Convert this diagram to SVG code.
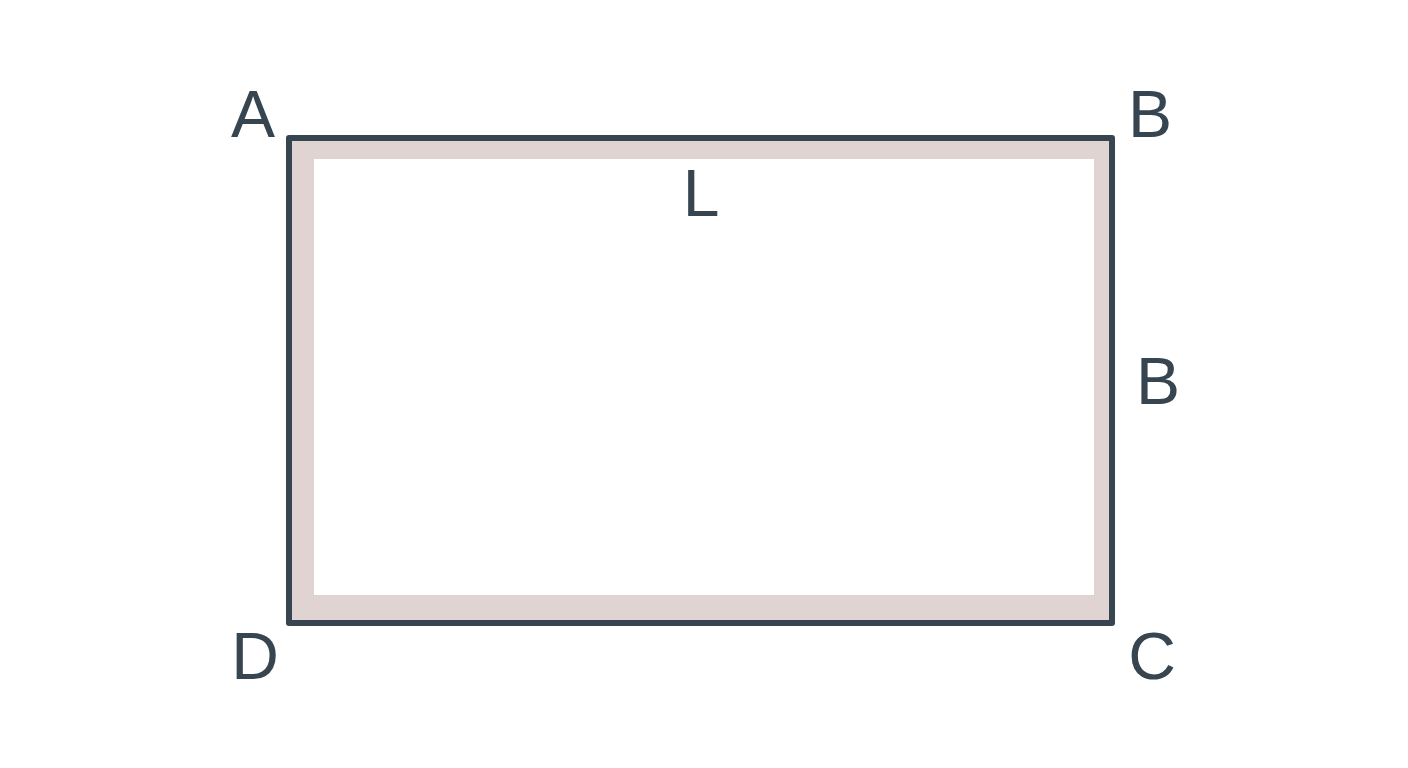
<svg xmlns="http://www.w3.org/2000/svg" width="1408" height="768" viewBox="0 0 1408 768">
  <style>
    .lbl { font-family: "Liberation Sans", Arial, sans-serif; font-size: 66px; fill: #36454f; text-anchor: middle; }
  </style>
  <rect x="0" y="0" width="1408" height="768" fill="#ffffff"/>
  <g id="rectangle">
    <rect x="289" y="138" width="823" height="485" fill="#e0d4d3" stroke="none"/>
    <rect x="314" y="159" width="780" height="436" fill="#ffffff"/>
    <rect x="289" y="138" width="823" height="485" fill="none" stroke="#36454f" stroke-width="6" stroke-linejoin="round"/>
  </g>
  <g id="labels">
    <text id="label-A" class="lbl" x="253" y="137">A</text>
    <text id="label-B-top" class="lbl" x="1150" y="137">B</text>
    <text id="label-L" class="lbl" x="701" y="216">L</text>
    <text id="label-B-side" class="lbl" x="1158" y="404">B</text>
    <text id="label-D" class="lbl" x="255" y="679">D</text>
    <text id="label-C" class="lbl" x="1152" y="679">C</text>
  </g>
</svg>
